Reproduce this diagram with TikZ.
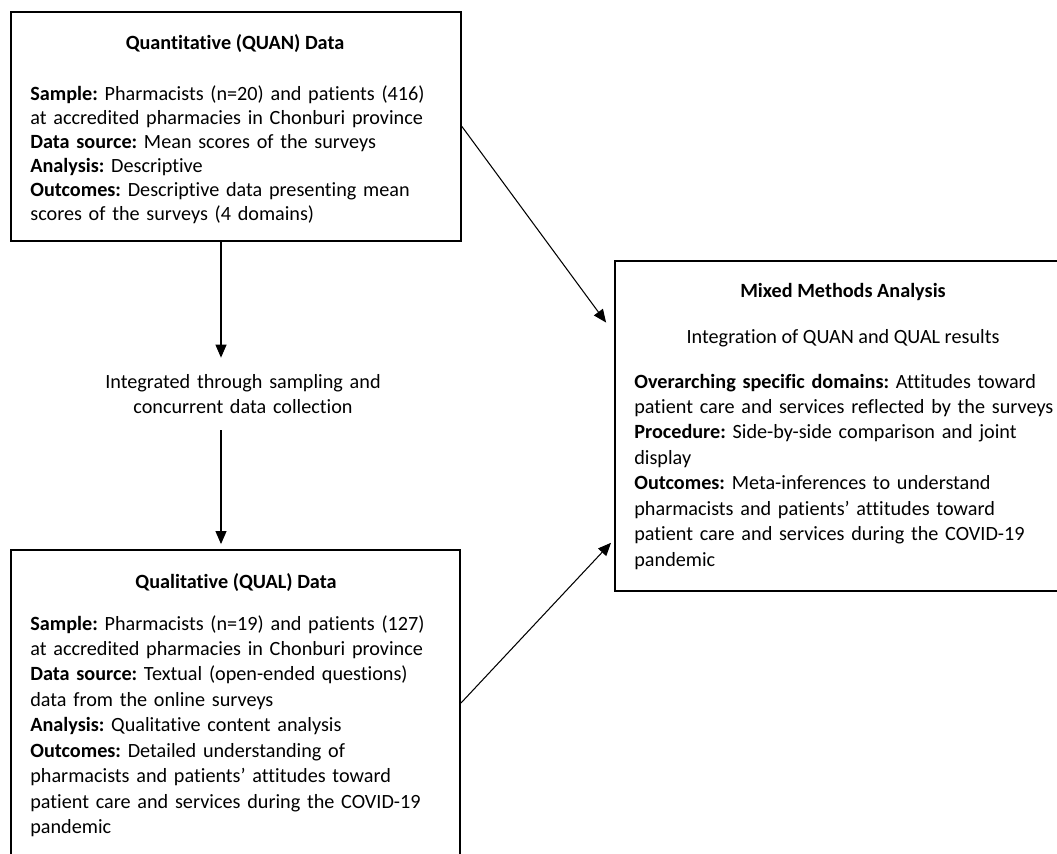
\documentclass[tikz,border=0pt]{standalone}
\usepackage{fontspec}
\setmainfont{Carlito}[Ligatures=NoCommon]
\frenchspacing
\usetikzlibrary{arrows.meta,calc}
\begin{document}
\begin{tikzpicture}[x=0.02cm, y=-0.02cm,
  box/.style={draw, line width=1.1pt, minimum width=#1, minimum height=6.6cm, inner sep=0},
  head/.style={font=\bfseries\fontsize{11.5}{14.5}\selectfont, anchor=base, inner sep=0},
  body/.style={text width=9cm, align=left, anchor=base west, inner sep=0, font=\fontsize{11.5}{14.5}\selectfont},
  arr/.style={-{Triangle[length=0.26cm,width=0.22cm]}, line width=0.6pt}]
\useasboundingbox (0,0) rectangle (1057,853);
\clip (0,0) rectangle (1057,853);
\node[box=9cm, minimum height=4.58cm] (quan) at (236,126.5) {};
\node[box=8.98cm] (qual) at (235.5,715) {};
\node[box=9.12cm] (mixed) at (843,426) {};
\node[head] (quant) at (235,49) {Quantitative (QUAN) Data};
\node[body, font=\fontsize{11.5}{13.7}\selectfont] (quanb) at (30,100) {\textbf{Sample:} Pharmacists (n=20) and patients (416)\\at accredited pharmacies in Chonburi province\\\textbf{Data source:} Mean scores of the surveys\\\textbf{Analysis:} Descriptive\\\textbf{Outcomes:} Descriptive data presenting mean\\scores of the surveys (4 domains)};
\node[head] (qualt) at (236,588) {Qualitative (QUAL) Data};
\node[body] (qualb) at (30,630) {\textbf{Sample:} Pharmacists (n=19) and patients (127)\\at accredited pharmacies in Chonburi province\\\textbf{Data source:} Textual (open-ended questions)\\data from the online surveys\\\textbf{Analysis:} Qualitative content analysis\\\textbf{Outcomes:} Detailed understanding of\\pharmacists and patients’ attitudes toward\\patient care and services during the COVID-19\\pandemic};
\node[head] (mixedt) at (843,297) {Mixed Methods Analysis};
\node[head, font=\fontsize{11.5}{14.5}\selectfont] (integ) at (843,343) {Integration of QUAN and QUAL results};
\node[body] (mixedb) at (634,388) {\textbf{Overarching specific domains:} Attitudes toward\\patient care and services reflected by the surveys\\\textbf{Procedure:} Side-by-side comparison and joint\\display\\\textbf{Outcomes:} Meta-inferences to understand\\pharmacists and patients’ attitudes toward\\patient care and services during the COVID-19\\pandemic};
\node[minimum height=1.44cm, text width=8cm, align=center, inner sep=0, font=\fontsize{11.5}{14.5}\selectfont] (integr) at (243,394) {Integrated through sampling and\\concurrent data collection};
\coordinate (axis) at (221,0);
\draw[arr] (quan.south -| axis) -- (integr.north -| axis);
\draw[arr, shorten >=0.1cm] (integr.south -| axis) -- (qual.north -| axis);
\draw[arr, shorten >=0.27cm] (quan.east) -- ($(mixed.north west)!0.221!(mixed.south west)$);
\draw[arr, shorten >=0.09cm] ($(qual.north east)!0.464!(qual.south east)$) -- ($(mixed.north west)!0.842!(mixed.south west)$);
\end{tikzpicture}
\end{document}
